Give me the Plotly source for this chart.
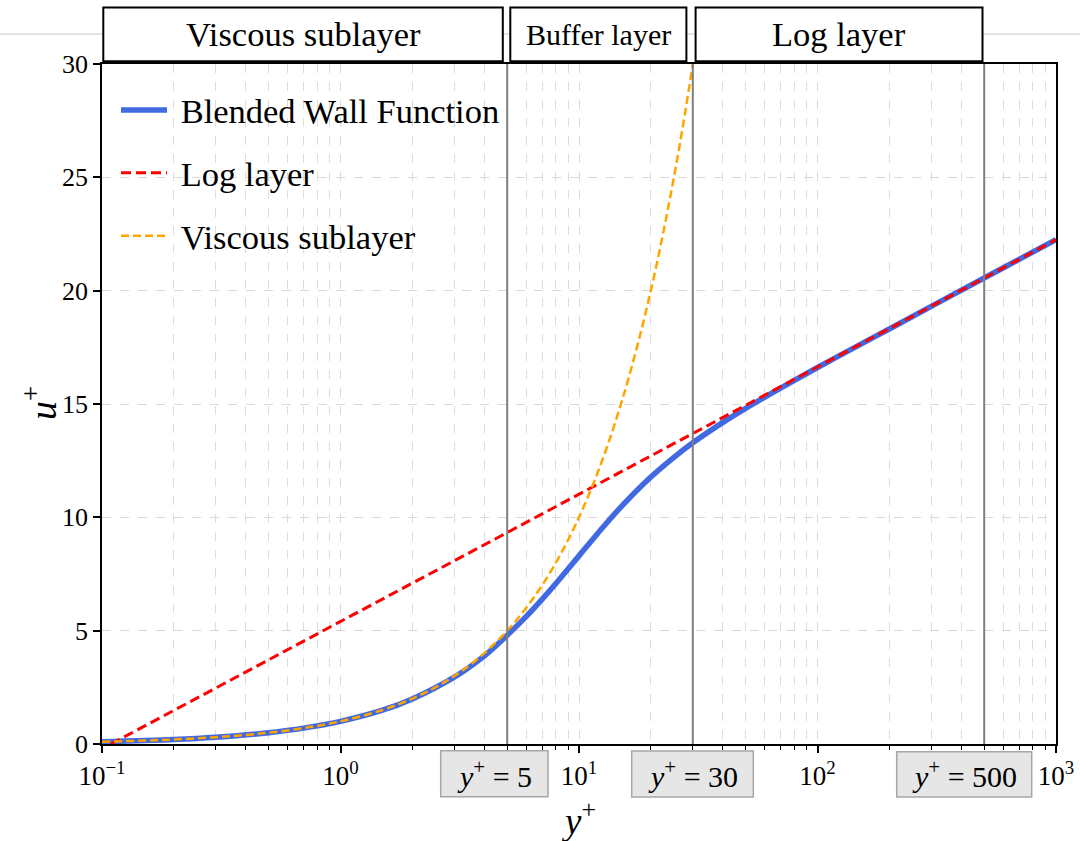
import plotly.graph_objects as go

# ---------------- data ----------------
blend_yplus = [0.1, 0.2, 0.3, 0.5, 0.7, 1, 1.5, 2, 3, 4, 5, 6, 7, 8, 10, 12, 15, 20, 25, 30,
               40, 50, 70, 100, 150, 200, 300, 500, 700, 1000]
blend_u = [0.10, 0.20, 0.30, 0.50, 0.70, 1.00, 1.49, 1.99, 2.95, 3.88, 4.80, 5.62, 6.38, 7.08,
           8.30, 9.30, 10.46, 11.78, 12.65, 13.29, 14.18, 14.81, 15.70, 16.61, 17.61, 18.31,
           19.31, 20.56, 21.38, 22.25]

loglaw_yplus = [0.109, 1, 10, 100, 1000]
loglaw_u = [0.0, 5.40, 11.02, 16.63, 22.25]

visc_yplus = [0.1, 0.15, 0.2, 0.3, 0.4, 0.5, 0.7, 1, 1.5, 2, 2.5, 3, 3.5, 4, 5, 6, 7, 8, 9, 10,
              11, 12, 13, 14, 15, 16, 18, 20, 22, 24, 26, 28, 30]
visc_u = [0.1, 0.15, 0.2, 0.3, 0.4, 0.5, 0.7, 1, 1.5, 2, 2.5, 3, 3.5, 4, 5, 6, 7, 8, 9, 10,
          11, 12, 13, 14, 15, 16, 18, 20, 22, 24, 26, 28, 30]

series_names = ["Blended Wall Function", "Log layer", "Viscous sublayer"]
region_bounds = [5, 30, 500]
bound_labels = ["<i>y</i><sup>+</sup> = 5", "<i>y</i><sup>+</sup> = 30", "<i>y</i><sup>+</sup> = 500"]
region_names = ["Viscous sublayer", "Buffer layer", "Log layer"]

x_tickvals = [0.1, 1, 10, 100, 1000]
x_ticktext = ["10<sup>−1</sup>", "10<sup>0</sup>", "10<sup>1</sup>", "10<sup>2</sup>", "10<sup>3</sup>"]
y_tickvals = [0, 5, 10, 15, 20, 25, 30]

# ---------------- layout geometry ----------------
W, H = 1080, 841
L, R, T, B = 102, 24, 64, 97
PW, PH = W - L - R, H - T - B


def px(xp):
    return (xp - L) / PW


def py(yp):
    return (H - B - yp) / PH


FONT = "Liberation Serif, Times New Roman, serif"
PAD = "\u00a0"

fig = go.Figure()

fig.add_trace(go.Scatter(x=blend_yplus, y=blend_u, mode="lines", name=PAD + series_names[0],
                         line=dict(color="#4169E1", width=5.5, shape="spline"),
                         legendgroup="a"))
fig.add_trace(go.Scatter(x=loglaw_yplus, y=loglaw_u, mode="lines", name=PAD + series_names[1],
                         line=dict(color="#FF0000", width=3, dash="10px,5px"),
                         legendgroup="b"))
fig.add_trace(go.Scatter(x=visc_yplus, y=visc_u, mode="lines", name=PAD + series_names[2],
                         line=dict(color="#FFA500", width=2.5, dash="8px,4px", shape="spline"),
                         legendgroup="c"))

for xb in region_bounds:
    fig.add_trace(go.Scatter(x=[xb, xb], y=[0, 30], mode="lines", showlegend=False,
                             line=dict(color="#7f7f7f", width=2), hoverinfo="skip"))

minor_vals = [m * 10 ** k for k in range(-1, 3) for m in range(2, 10)]

fig.update_xaxes(type="log", range=[-1, 3], tickvals=x_tickvals, ticktext=x_ticktext,
                 ticks="outside", ticklen=7, tickwidth=1.5, tickcolor="black",
                 showline=True, linecolor="black", linewidth=1.5, mirror=True,
                 showgrid=True, gridcolor="#d9d9d9", griddash="dash", gridwidth=1,
                 tickfont=dict(family=FONT, size=27, color="black"),
                 minor=dict(tickvals=minor_vals, ticks="outside", ticklen=4, tickwidth=1,
                            tickcolor="black", showgrid=True, gridcolor="#dcdcdc",
                            griddash="dash", gridwidth=1),
                 zeroline=False)
fig.update_yaxes(range=[0, 30], tickvals=y_tickvals,
                 ticks="outside", ticklen=7, tickwidth=1.5, tickcolor="black",
                 showline=True, linecolor="black", linewidth=1.5, mirror=True,
                 showgrid=True, gridcolor="#d9d9d9", griddash="dash", gridwidth=1,
                 tickfont=dict(family=FONT, size=26, color="black"), zeroline=False)

shapes = []
annotations = []

# faint slide line at the top
shapes.append(dict(type="line", xref="paper", yref="paper", x0=px(0), x1=px(W), y0=py(34), y1=py(34),
                   line=dict(color="#c8c8c8", width=1), layer="below"))

# region boxes above the plot
top_boxes = [(103.3, 502.8), (510.3, 686.4), (695.6, 982.5)]
top_sizes = [34.5, 30, 34.5]
for (x0, x1), name, fs in zip(top_boxes, region_names, top_sizes):
    shapes.append(dict(type="rect", xref="paper", yref="paper", x0=px(x0), x1=px(x1),
                       y0=py(61.3), y1=py(7.6), fillcolor="white",
                       line=dict(color="black", width=2), layer="above"))
    annotations.append(dict(xref="paper", yref="paper", x=px((x0 + x1) / 2), y=py(34.5),
                            text=name, showarrow=False, xanchor="center", yanchor="middle",
                            font=dict(family=FONT, size=fs, color="black")))

# y+ boundary label boxes below the axis
bottom_boxes = [(440.7, 548.0, 750.7, 796.7), (631.7, 753.3, 751.0, 797.0), (896.7, 1031.7, 751.7, 797.0)]
for (x0, x1, y0, y1), lab in zip(bottom_boxes, bound_labels):
    shapes.append(dict(type="rect", xref="paper", yref="paper", x0=px(x0), x1=px(x1),
                       y0=py(y1), y1=py(y0), fillcolor="#e6e6e6",
                       line=dict(color="#a6a6a6", width=1.5), layer="above"))
    annotations.append(dict(xref="paper", yref="paper", x=px((x0 + x1) / 2), y=py((y0 + y1) / 2),
                            text=lab, showarrow=False, xanchor="center", yanchor="middle",
                            font=dict(family=FONT, size=30, color="black")))

# axis titles
annotations.append(dict(xref="paper", yref="paper", x=px(578), y=py(818), text="<i>y</i><sup>+</sup>",
                        showarrow=False, xanchor="center", yanchor="middle",
                        font=dict(family=FONT, size=37, color="black")))
annotations.append(dict(xref="paper", yref="paper", x=px(40), y=py(403), text="<i>u</i><sup>+</sup>",
                        showarrow=False, xanchor="center", yanchor="middle", textangle=-90,
                        font=dict(family=FONT, size=38, color="black")))

fig.update_layout(
    width=W, height=H,
    margin=dict(l=L, r=R, t=T, b=B, autoexpand=False),
    paper_bgcolor="white", plot_bgcolor="white",
    showlegend=True,
    legend=dict(x=px(116), y=py(81), xanchor="left", yanchor="top",
                bgcolor="rgba(255,255,255,0)", borderwidth=0,
                font=dict(family=FONT, size=34.5, color="black"),
                tracegroupgap=15, itemwidth=46),
    shapes=shapes, annotations=annotations,
)

fig.write_html("out.html")
